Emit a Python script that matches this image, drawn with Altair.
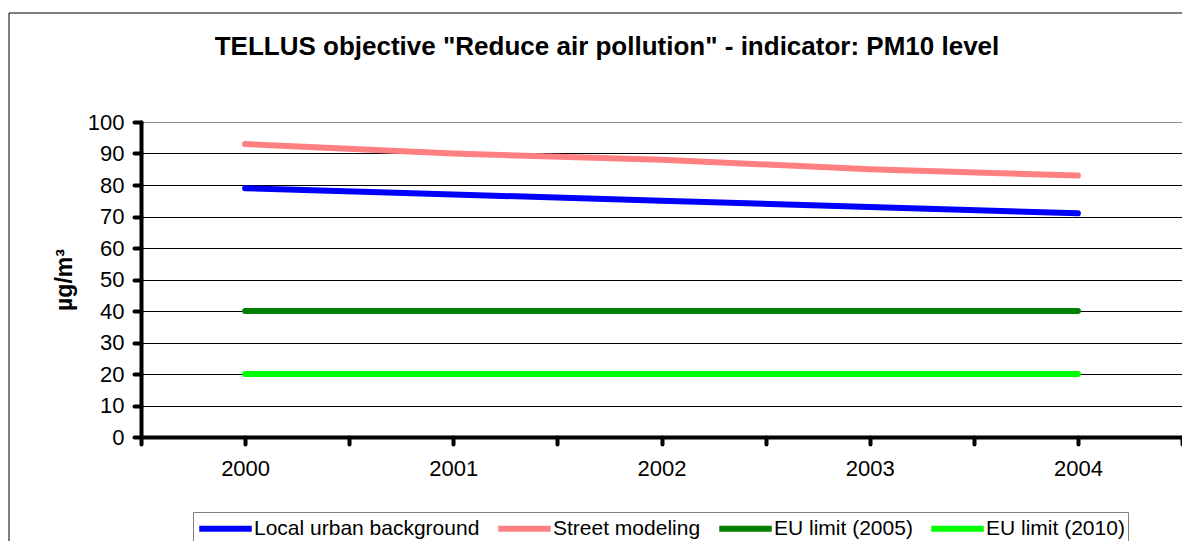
import altair as alt
import pandas as pd

# ---- data ----
years = [2000, 2001, 2002, 2003, 2004]
series_names = ["Local urban background", "Street modeling", "EU limit (2005)", "EU limit (2010)"]
local_urban = [79, 77, 75, 73, 71]
street_modeling = [93, 90, 88, 85, 83]
eu_limit_2005 = [40, 40, 40, 40, 40]
eu_limit_2010 = [20, 20, 20, 20, 20]
series_colors = ["#0000FF", "#FF8080", "#008000", "#00FF00"]
y_ticks = [0, 10, 20, 30, 40, 50, 60, 70, 80, 90, 100]
x_ticks = [1999.5, 2000, 2000.5, 2001, 2001.5, 2002, 2002.5, 2003, 2003.5, 2004, 2004.5]
title_text = 'TELLUS objective "Reduce air pollution" - indicator: PM10 level'
y_title = "µg/m³"

rows = []
for name, vals in zip(series_names, [local_urban, street_modeling, eu_limit_2005, eu_limit_2010]):
    for yr, v in zip(years, vals):
        rows.append({"year": yr, "value": v, "series": name})
df = pd.DataFrame(rows)

FONT = "Liberation Sans"
W, H = 1041, 315

lines = alt.Chart(df).mark_line(strokeWidth=6, strokeCap="round", strokeJoin="round").encode(
    x=alt.X(
        "year:Q",
        scale=alt.Scale(domain=[1999.5, 2004.5], nice=False, zero=False),
        axis=alt.Axis(
            values=x_ticks,
            labelExpr="datum.value % 1 == 0 ? format(datum.value, 'd') : ''",
            title=None, grid=False, labelOverlap=False, labelFlush=False,
            domainColor="black", domainWidth=4, domainCap="round",
            tickColor="black", tickWidth=4, tickSize=7, tickCap="round",
            labelFont=FONT, labelFontSize=22, labelColor="black", labelPadding=14,
        ),
    ),
    y=alt.Y(
        "value:Q",
        scale=alt.Scale(domain=[0, 100], nice=False),
        axis=alt.Axis(
            values=y_ticks, title=None, grid=True, labelOverlap=False,
            gridColor={"condition": {"test": "datum.value == 100", "value": "#909090"}, "value": "black"},
            gridWidth=1,
            domainColor="black", domainWidth=4, domainCap="round",
            tickColor="black", tickWidth=4, tickSize=7, tickCap="round",
            labelFont=FONT, labelFontSize=22, labelColor="black", labelPadding=10,
        ),
    ),
    color=alt.Color(
        "series:N",
        sort=series_names,
        scale=alt.Scale(domain=series_names, range=series_colors),
        legend=alt.Legend(
            title=None, orient="none", legendX=52, legendY=390,
            direction="horizontal", columns=4,
            symbolType="M-2.5,0H2.5", symbolStrokeWidth=6, symbolSize=441,
            symbolOffset=16,
            labelFont=FONT, labelFontSize=21, labelColor="black", labelLimit=400,
            labelOffset=15, columnPadding=6,
            strokeColor="#808080", fillColor="white", padding=3,
        ),
    ),
)

title_mark = alt.Chart(pd.DataFrame({"t": [title_text]})).mark_text(
    font=FONT, fontSize=26, fontWeight="bold", color="black", align="center", baseline="middle"
).encode(text="t:N", x=alt.value(466), y=alt.value(-75))

ytitle_mark = alt.Chart(pd.DataFrame({"t": [y_title]})).mark_text(
    font=FONT, fontSize=23, fontWeight="bold", color="black", align="center", baseline="middle", angle=270
).encode(text="t:N", x=alt.value(-76), y=alt.value(158))

border = alt.Chart(pd.DataFrame({"a": [0]})).mark_rect(
    fill="transparent", stroke="black", strokeWidth=1
).encode(x=alt.value(-132), x2=alt.value(1060), y=alt.value(-109), y2=alt.value(440))

chart = alt.layer(border, lines, title_mark, ytitle_mark).properties(
    width=W, height=H,
    autosize=alt.AutoSizeParams(type="none"),
    padding={"left": 133, "top": 114, "right": 0, "bottom": 104},
    background="white",
).configure_view(stroke="#808080", strokeWidth=1)

chart.save("out.html", embed_options={"renderer": "svg", "actions": False})
